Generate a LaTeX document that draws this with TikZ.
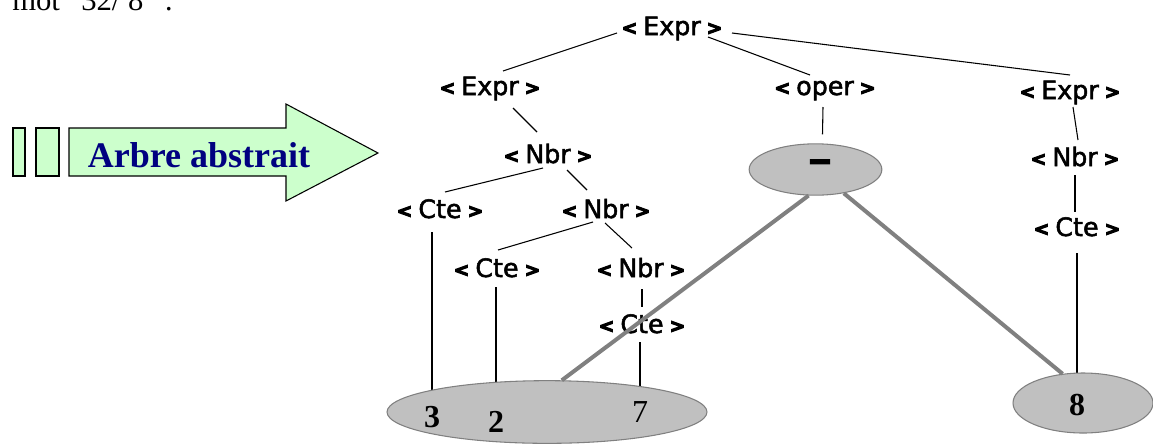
\documentclass[tikz,border=0pt]{standalone}
\usepackage{fontspec}
\setmainfont{Liberation Serif}
\newfontfamily\labfont{DejaVu Sans}[FakeBold=2]
\newfontfamily\chevfont{DejaVu Sans Bold}[FakeBold=6]
\usetikzlibrary{shapes.geometric,backgrounds}
\definecolor{ellfill}{HTML}{C0C0C0}
\definecolor{ellline}{HTML}{808080}
\definecolor{arrowfill}{HTML}{CCFFCC}
\definecolor{navytext}{HTML}{000080}
\newcommand\chevL{\raisebox{0.5pt}{\chevfont\fontsize{14}{14}\selectfont <}}
\newcommand\chevR{\raisebox{0.5pt}{\chevfont\fontsize{14}{14}\selectfont >}}
\newcommand\lab[1]{\chevL\hspace{4.5pt}#1\hspace{4.5pt}\chevR}
\begin{document}
\begin{tikzpicture}[x=0.75pt,y=-0.75pt,
 lbl/.style={anchor=base,inner sep=0pt,font=\labfont\fontsize{19}{21}\selectfont},
 ell/.style={ellipse,fill=ellfill,draw=ellline,line width=0.8pt,inner sep=0pt},
 digit/.style={anchor=base,inner sep=0pt,font=\fontsize{24}{26}\selectfont\bfseries},
 tline/.style={line width=0.8pt,black},
 gline/.style={line width=3pt,ellline},
 boxfill/.style={fill=arrowfill,draw=black,line width=0.8pt}]
\useasboundingbox (0,0) rectangle (1153,444);
\clip (0,0) rectangle (1153,444);

% cut-off text at the top
\node[anchor=base west,inner sep=0pt,font=\fontsize{23}{26}\selectfont] (topline) at (12,10) {mot “32/ 8” :};

% arrow
\draw[boxfill] (13,128) rectangle (25,176);
\draw[boxfill] (36,128) rectangle (59,176);
\draw[boxfill] (69,128) -- (286,128) -- (286,104) -- (378,153) -- (286,201) -- (286,176) -- (69,176) -- cycle;
\node[anchor=base,inner sep=0pt,text=navytext,font=\fontsize{27}{30}\selectfont\bfseries] (arrowtxt) at (199,167) {Arbre abstrait};

% labels
\node[lbl] (E0) at (672,35) {\lab{Expr}};
\node[lbl] (E1) at (490,95) {\lab{Expr}};
\node[lbl] (N1) at (548,163) {\lab{Nbr}};
\node[lbl] (C1) at (440,218) {\lab{Cte}};
\node[lbl] (N2) at (606,218) {\lab{Nbr}};
\node[lbl] (C2) at (497,277) {\lab{Cte}};
\node[lbl] (N3) at (641,277) {\lab{Nbr}};
\node[lbl] (C3) at (642,333) {\lab{Cte}};
\node[lbl] (OP) at (825,95) {\lab{oper}};
\node[lbl] (E2) at (1070,99) {\lab{Expr}};
\node[lbl] (N4) at (1075,166) {\lab{Nbr}};
\node[lbl] (C4) at (1077,236) {\lab{Cte}};

% ellipses
\node[ell,minimum width=99.5pt,minimum height=38.5pt] (M) at (815.5,169.5) {};
\node[anchor=base,inner sep=0pt,font=\chevfont\fontsize{22}{22}\selectfont] (minus) at (820,171) {−};
\node[ell,minimum width=240pt,minimum height=47pt] (BL) at (547,412) {};
\node[ell,minimum width=105pt,minimum height=45pt] (BR) at (1083,403) {};
\node[digit] (d3) at (432,427) {3};
\node[digit] (d2) at (496,432) {2};
\node[digit,font=\fontsize{24}{26}\selectfont] (d7) at (640,422) {7};
\node[digit] (d8) at (1077,415) {8};

% thin connectors
\draw[tline] ([shift={(-55,-2)}]E0.base) -- ([shift={(13,-24)}]E1.base);
\draw[tline] ([shift={(36,2)}]E0.base) -- ([shift={(-15,-20)}]OP.base);
\draw[tline] ([shift={(60,-2)}]E0.base) -- ([shift={(0,-24)}]E2.base);
\draw[tline] ([shift={(23,13)}]E1.base) -- ([shift={(-11,-31)}]N1.base);
\draw[tline] ([shift={(-5,5)}]N1.base) -- ([shift={(5,-26)}]C1.base);
\draw[tline] ([shift={(19,7)}]N1.base) -- ([shift={(-19,-28)}]N2.base);
\draw[tline] ([shift={(-13,4)}]N2.base) -- ([shift={(1,-27)}]C2.base);
\draw[tline] ([shift={(-1,5)}]N2.base) -- ([shift={(-9,-29)}]N3.base);
\draw[tline] ([shift={(1,12)}]N3.base) -- ([shift={(0,-26)}]C3.base);
\draw[tline] ([shift={(-2,12)}]OP.base) -- ([shift={(7,-9)}]M.north);
\draw[tline] ([shift={(3,8)}]E2.base) -- ([shift={(3,-26)}]N4.base);
\draw[tline] ([shift={(0,9)}]N4.base) -- ([shift={(-2,-24)}]C4.base);

\begin{pgfonlayer}{background}
\draw[tline] ([shift={(-8,14)}]C1.base) -- (d3);
\draw[tline] ([shift={(-1,10)}]C2.base) -- (d2);
\draw[tline] ([shift={(-2,9)}]C3.base) -- (d7);
\draw[tline] ([shift={(0,17)}]C4.base) -- (d8);
\end{pgfonlayer}

% grey connectors
\draw[gline] (M.255) -- (BL.65);
\draw[gline] (M.320) -- (BR.125);
\end{tikzpicture}
\end{document}
